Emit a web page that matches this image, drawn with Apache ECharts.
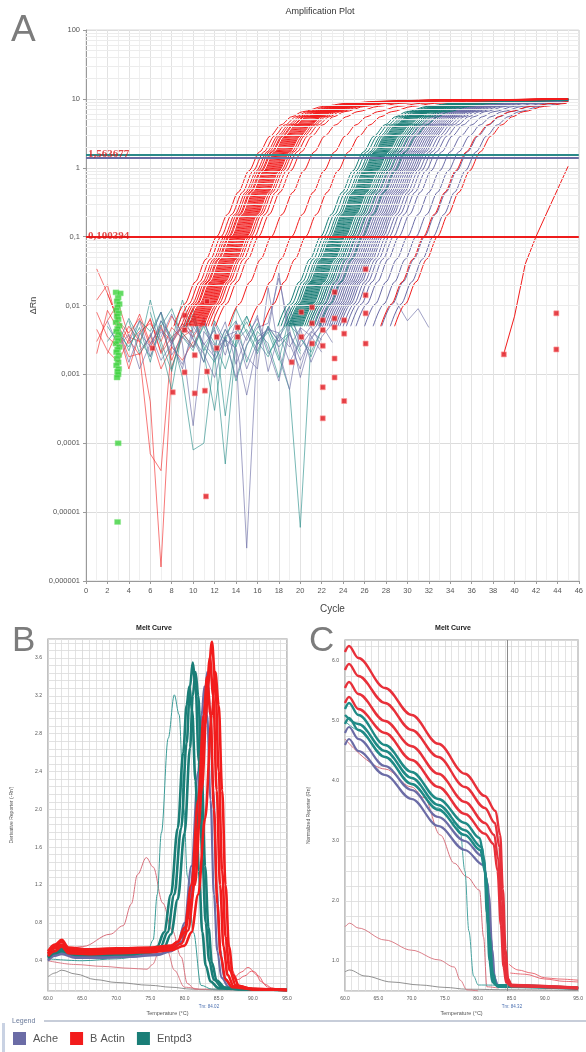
<!DOCTYPE html>
<html><head><meta charset="utf-8">
<script src="https://cdn.jsdelivr.net/npm/echarts@6/dist/echarts.min.js"></script>
<style>html,body{margin:0;padding:0;background:#fff}#c{width:586px;height:1052px}</style>
</head><body><div id="c"></div>
<script>
// ---------------- DATA ----------------
// A: amplification plot (cycle, ΔRn)
const cycleRange = [0, 46];
const logRange = [0.000001, 100];
const thresholds = [0.100394, 1.563677, 1.4];          // B Actin, Entpd3, Ache
const thresholdLabels = ['0,100394', '1,563677'];
// shape of one amplification curve, relative to its Ct (cycle at 0.1)
const ampDx = [-4, -3, -2, -1, 0, 1, 2, 3, 4, 5, 6, 7, 8, 10, 12, 15, 20, 30];
const ampRn = [0.005, 0.0105, 0.022, 0.047, 0.1, 0.21, 0.44, 0.9, 1.7, 2.9, 4.2, 5.5, 6.5, 7.8, 8.6, 9.2, 9.6, 9.9];
// Ct of each well (cycle where the curve crosses 0.1)
const ctBactin = [12.2, 12.6, 12.9, 13.1, 13.3, 13.4, 13.6, 13.7, 13.8, 13.9, 14.0, 14.1, 14.2, 14.3, 14.4, 14.5, 14.6, 14.7, 14.8, 14.9, 15.0, 15.2, 15.4, 15.7, 16.1, 17.3, 19.2, 20.5, 31.5, 32.8];
const ctEntpd3 = [21.9, 22.2, 22.5, 22.7, 22.9, 23.0, 23.1, 23.2, 23.3, 23.4, 23.5, 23.6, 23.7, 23.8, 23.9, 24.0, 24.1, 24.2, 24.4, 24.6, 24.8, 25.0, 25.3, 25.8];
const ctAche = [24.8, 25.2, 25.5, 25.7, 25.9, 26.1, 26.3, 26.5, 26.7, 26.9, 27.1, 27.3, 27.5, 27.7, 28.0, 28.3, 28.7, 29.2, 30.0, 30.8, 31.6, 32.4];
const lateBactin = [[39, 0.002], [40, 0.007], [41, 0.04], [42, 0.1], [43, 0.22], [44, 0.48], [45, 1.05]];
// baseline noise: [first cycle, values per cycle]
const noiseBactin = [
  [1, [0.034, 0.015, 0.006, 0.004, 0.0065, 0.0025, 0.0045, 0.003, 0.0055, 0.004]],
  [1, [0.008, 0.0035, 0.0025, 0.005, 0.003, 0.0065, 0.002, 0.0035, 0.0048, 0.006, 0.008]],
  [1, [0.003, 0.006, 0.011, 0.0035, 0.003, 0.0004, 0.0000016, 0.0013, 0.0035, 0.0045]],
  [2, [0.002, 0.0045, 0.0018, 0.002, 0.00007, 0.00004, 0.0028, 0.005, 0.0035, 0.006]],
  [1, [0.012, 0.02, 0.005, 0.0028, 0.0042, 0.0055, 0.003, 0.007, 0.004, 0.0025, 0.006]],
  [1, [0.0045, 0.0022, 0.0015, 0.0032, 0.0019, 0.0038, 0.0012, 0.0025, 0.0016, 0.003]],
  [1, [0.002, 0.0085, 0.0045, 0.0012, 0.0038, 0.0062, 0.0021, 0.0048, 0.0033]],
  [2, [0.015, 0.006, 0.0032, 0.0075, 0.0028, 0.0052, 0.0016, 0.0042, 0.0065]]
];
const noiseEntpd3 = [
  [2, [0.003, 0.005, 0.0022, 0.006, 0.0042, 0.008, 0.003, 0.012, 0.004, 0.0015, 0.006, 0.003, 0.009, 0.004, 0.002, 0.005, 0.003, 0.004]],
  [3, [0.004, 0.0025, 0.0048, 0.0015, 0.006, 0.0035, 0.0009, 0.00008, 0.0001, 0.002, 0.0045, 0.0025, 0.007, 0.003, 0.0018, 0.004, 0.006]],
  [4, [0.006, 0.002, 0.0035, 0.008, 0.0012, 0.004, 0.0025, 0.005, 0.002, 0.00005, 0.003, 0.0045, 0.0022, 0.005, 0.0018, 0.0006, 0.000006, 0.003]],
  [2, [0.005, 0.0028, 0.0065, 0.0032, 0.0018, 0.005, 0.009, 0.0035, 0.0022, 0.0055, 0.0028, 0.0012, 0.004, 0.007, 0.003, 0.0045, 0.0025, 0.0038, 0.002]],
  [5, [0.0025, 0.012, 0.003, 0.0011, 0.0045, 0.0075, 0.0025, 0.0015, 0.0035, 0.0008, 0.0026, 0.0055, 0.002, 0.0035, 0.006, 0.0022]],
  [6, [0.008, 0.0025, 0.0006, 0.0045, 0.009, 0.002, 0.0003, 0.0038, 0.006, 0.0015, 0.0042, 0.0028, 0.0009, 0.0052, 0.0035, 0.0018, 0.0045]],
  [9, [0.004, 0.0065, 0.0022, 0.0048, 0.00025, 0.0032, 0.0058, 0.0027, 0.0041, 0.0016, 0.0069, 0.0034, 0.0021, 0.0045]]
];
const noiseAche = [
  [3, [0.0045, 0.0015, 0.004, 0.0025, 0.006, 0.003, 0.0012, 0.005, 0.0028, 0.0018, 0.0045, 0.0022, 0.000003, 0.0035, 0.0045, 0.004, 0.0015, 0.003, 0.005, 0.0025]],
  [4, [0.003, 0.006, 0.0018, 0.0042, 0.0028, 0.0075, 0.0033, 0.0015, 0.0055, 0.0025, 0.004, 0.0012, 0.003, 0.0042, 0.03, 0.0028, 0.0012, 0.004, 0.0065]],
  [5, [0.0022, 0.0035, 0.008, 0.0026, 0.0014, 0.0038, 0.0062, 0.0021, 0.0033, 0.0009, 0.0027, 0.0048, 0.0055, 0.025, 0.0045, 0.0009, 0.0032, 0.0055]],
  [2, [0.006, 0.0025, 0.0038, 0.0012, 0.0028, 0.0048, 0.0019, 0.0036, 0.0024, 0.0068, 0.0016, 0.0032, 0.0024, 0.0005, 0.0028, 0.0048, 0.003, 0.0095, 0.0025, 0.0042, 0.0032]],
  [6, [0.004, 0.0016, 0.0028, 0.0055, 0.0032, 0.002, 0.0009, 0.0036, 0.0042, 0.0018, 0.0012, 0.018, 0.0022, 0.0006, 0.0048, 0.0036, 0.0021]],
  [7, [0.0035, 0.0075, 0.0028, 0.00018, 0.0042, 0.0026, 0.0058, 0.0014, 0.0036, 0.0065, 0.0023, 0.0008, 0.0041, 0.0016, 0.0034, 0.0052, 0.0029]],
  [10, [0.0062, 0.0027, 0.0044, 0.0019, 0.0058, 0.0031, 0.0072, 0.0011, 0.0038, 0.0025, 0.0047, 0.0015, 0.0035, 0.0055]],
  [29, [0.011, 0.006, 0.009, 0.0048]]
];
const flagPoints = [[6.2, 0.0024], [8.1, 0.00055], [9.2, 0.0072], [9.2, 0.0044], [9.2, 0.00107], [10.15, 0.0019], [10.15, 0.00053], [11.1, 0.00058], [11.3, 0.0115], [11.3, 0.0011], [11.2, 0.0000169], [12.2, 0.0035], [12.2, 0.0024], [14.15, 0.0048], [14.15, 0.0035], [19.2, 0.0015], [20.1, 0.008], [20.1, 0.0035], [21.1, 0.0094], [21.1, 0.0055], [21.1, 0.0028], [22.1, 0.0061], [22.1, 0.0044], [22.1, 0.0026], [22.1, 0.00065], [22.1, 0.00023], [23.2, 0.0156], [23.2, 0.0065], [23.2, 0.0048], [23.2, 0.0017], [23.2, 0.0009], [24.1, 0.0061], [24.1, 0.0039], [24.1, 0.00041], [26.1, 0.0336], [26.1, 0.0141], [26.1, 0.0077], [26.1, 0.0028], [39, 0.00195], [43.9, 0.0077], [43.9, 0.0023]];
const greenPoints = [[2.8, 0.0155], [3.2, 0.015], [3.0, 0.013], [2.9, 0.0115], [3.1, 0.0105], [2.95, 0.0095], [2.85, 0.0085], [3.05, 0.0077], [2.9, 0.007], [3.0, 0.0063], [2.8, 0.0057], [3.1, 0.0051], [2.95, 0.0046], [2.85, 0.0042], [3.05, 0.0038], [2.9, 0.0034], [3.0, 0.0031], [2.8, 0.0028], [3.1, 0.0025], [2.95, 0.0023], [2.85, 0.0021], [3.05, 0.0019], [2.9, 0.0017], [3.0, 0.0015], [2.85, 0.00135], [3.05, 0.0012], [2.95, 0.0011], [3.0, 0.001], [2.9, 0.0009], [3.0, 0.0001], [2.95, 0.0000072]];

// B: derivative melt curves (°C, -Rn')
const derivBactin = [
  [[60,0.48],[61,0.55],[62,0.6],[63,0.52],[66,0.5],[70,0.52],[75,0.53],[78,0.55],[79,0.6],[80,0.75],[81,1.2],[82,2.1],[82.8,3.0],[83.3,3.4],[83.8,3.0],[84.3,2.0],[84.8,1.0],[85.3,0.45],[86,0.2],[87,0.12],[90,0.1],[95,0.09]],
  [[60,0.5],[61,0.57],[62,0.62],[63,0.54],[66,0.52],[70,0.53],[75,0.54],[78,0.56],[79,0.6],[80,0.7],[81,1.05],[82,1.8],[83,2.9],[83.7,3.6],[84.2,3.2],[84.7,2.2],[85.2,1.2],[85.7,0.55],[86.3,0.25],[87.2,0.13],[90,0.1],[95,0.09]],
  [[60,0.47],[61,0.53],[62,0.57],[63,0.5],[66,0.49],[70,0.5],[75,0.51],[78,0.53],[79.5,0.58],[80.5,0.72],[81.5,1.2],[82.5,2.2],[83.4,3.3],[84,3.77],[84.5,3.35],[85,2.4],[85.5,1.35],[86,0.65],[86.6,0.3],[87.5,0.14],[90,0.1],[95,0.09]],
  [[60,0.45],[61,0.5],[62,0.55],[63,0.48],[66,0.47],[70,0.48],[75,0.49],[78,0.51],[80,0.56],[81,0.7],[82,1.1],[83,1.9],[84,3.0],[84.5,3.45],[85,3.1],[85.5,2.2],[86,1.2],[86.5,0.55],[87.1,0.25],[88,0.13],[90,0.1],[95,0.09]]
];
const derivEntpd3 = [
  [[60,0.44],[61,0.5],[62,0.52],[64,0.47],[68,0.47],[72,0.47],[75,0.49],[76,0.55],[77,0.7],[78,1.1],[79,1.8],[79.8,2.6],[80.3,3.1],[80.7,3.3],[81.1,3.05],[81.6,2.3],[82.1,1.35],[82.6,0.7],[83.1,0.35],[83.8,0.18],[85,0.11],[88,0.1],[95,0.09]],
  [[60,0.45],[61,0.5],[62,0.53],[64,0.48],[68,0.48],[72,0.48],[75,0.5],[76.5,0.55],[77.5,0.7],[78.5,1.1],[79.5,1.8],[80.3,2.7],[80.8,3.3],[81.2,3.55],[81.6,3.3],[82.1,2.5],[82.6,1.5],[83.1,0.8],[83.6,0.4],[84.3,0.2],[85.5,0.12],[88,0.1],[95,0.09]],
  [[60,0.43],[61,0.48],[62,0.5],[64,0.46],[68,0.46],[72,0.47],[75,0.49],[77,0.54],[78,0.68],[79,1.05],[80,1.75],[80.8,2.65],[81.2,3.2],[81.6,3.45],[82,3.2],[82.5,2.4],[83,1.4],[83.5,0.75],[84,0.38],[84.7,0.19],[86,0.11],[88,0.1],[95,0.09]]
];
const derivAche = [
  [[60,0.4],[61,0.45],[62,0.47],[64,0.43],[68,0.43],[72,0.44],[76,0.46],[78,0.5],[79,0.58],[80,0.8],[81,1.4],[82,2.4],[82.5,3.0],[82.9,3.3],[83.3,3.0],[83.8,2.1],[84.3,1.1],[84.8,0.5],[85.4,0.22],[86.5,0.12],[90,0.1],[95,0.09]],
  [[60,0.41],[61,0.46],[62,0.48],[64,0.44],[68,0.44],[72,0.45],[76,0.47],[78,0.5],[79.5,0.6],[80.5,0.85],[81.5,1.5],[82.4,2.5],[82.9,3.1],[83.3,3.45],[83.7,3.1],[84.2,2.2],[84.7,1.15],[85.2,0.52],[85.8,0.22],[86.9,0.12],[90,0.1],[95,0.09]]
];
const derivTealOutlier = [[60,0.42],[65,0.4],[70,0.42],[73,0.44],[74.6,0.5],[75.4,0.62],[76.0,1.1],[76.6,1.75],[77.6,2.75],[78.5,3.21],[79.2,3.0],[79.9,2.0],[80.4,1.3],[81.3,0.7],[82.4,0.14],[84,0.1],[95,0.09]];
const derivPinkOutlier = [[60,0.48],[62,0.52],[65.1,0.55],[69.1,0.68],[71.0,0.77],[72.2,1.0],[73.1,1.31],[74.4,1.49],[75.4,1.39],[76.8,1.01],[78.2,0.72],[79.5,0.44],[80.4,0.16],[81.5,0.1],[95,0.09]];
const derivPinkLow = [[60,0.4],[64,0.36],[68,0.34],[72,0.32],[74.5,0.31],[75.3,0.36],[76.5,0.55],[77.5,0.5],[78.5,0.3],[80,0.12],[82,0.1]];
const derivGrayLow = [[60,0.23],[61,0.27],[62,0.3],[64,0.26],[67,0.2],[70,0.17],[75,0.14],[78,0.12],[81,0.1],[85,0.09],[95,0.09]];
const derivRedTail = [
  [[86,0.6],[86.5,0.35],[87.2,0.22],[88.3,0.28],[89.3,0.33],[90.3,0.28],[91.2,0.18],[92.2,0.12],[94,0.09]],
  [[86.3,0.5],[86.9,0.3],[87.8,0.2],[88.8,0.24],[89.8,0.29],[90.8,0.24],[91.8,0.15],[93,0.1],[95,0.09]]
];
const tmB = 84.02;

// C: normalized reporter melt curves (°C, Rn)
const rnBactin = [
  [[60,6.15],[60.6,6.25],[62,6.05],[66,5.55],[70,5.1],[74,4.62],[78,4.12],[81,3.75],[82.6,3.5],[83.3,3.1],[83.7,2.2],[84.1,1.2],[84.5,0.7],[85,0.6],[88,0.58],[95,0.56]],
  [[60,5.85],[60.6,5.95],[62,5.75],[66,5.3],[70,4.85],[74,4.4],[78,3.9],[81,3.55],[82.5,3.3],[83.2,2.9],[83.6,2.0],[84.0,1.1],[84.4,0.68],[85,0.6],[90,0.57],[95,0.55]],
  [[60,5.55],[60.6,5.65],[62,5.45],[66,5.0],[70,4.58],[74,4.12],[78,3.65],[81,3.3],[82.4,3.1],[83.0,2.7],[83.5,1.8],[83.9,1.0],[84.3,0.66],[85,0.6],[95,0.55]],
  [[60,5.3],[60.6,5.4],[62,5.2],[66,4.8],[70,4.35],[74,3.9],[78,3.45],[81,3.12],[82.3,2.95],[82.9,2.5],[83.4,1.6],[83.8,0.9],[84.2,0.64],[85,0.58],[95,0.54]]
];
const rnEntpd3 = [
  [[60,5.2],[60.6,5.3],[62,5.1],[66,4.6],[70,4.15],[74,3.7],[78,3.3],[80.2,3.05],[80.9,2.7],[81.3,1.8],[81.7,1.0],[82.1,0.65],[83,0.58],[95,0.55]],
  [[60,5.1],[62,4.95],[66,4.5],[70,4.05],[74,3.6],[78,3.18],[80.5,2.9],[81.2,2.4],[81.7,1.4],[82.2,0.8],[82.7,0.6],[95,0.55]],
  [[60,4.95],[60.6,5.05],[62,4.85],[66,4.4],[70,3.95],[74,3.52],[78,3.1],[80.3,2.85],[81.0,2.5],[81.5,1.6],[81.9,0.9],[82.4,0.62],[83,0.57],[95,0.54]]
];
const rnAche = [
  [[60,4.8],[60.6,4.9],[62,4.7],[66,4.25],[70,3.85],[74,3.4],[78,3.0],[80.6,2.75],[81.4,2.3],[81.9,1.4],[82.3,0.8],[82.8,0.6],[95,0.55]],
  [[60,4.6],[60.6,4.7],[62,4.5],[66,4.1],[70,3.7],[74,3.25],[78,2.85],[80.8,2.6],[81.6,2.1],[82.1,1.2],[82.5,0.7],[83,0.58],[95,0.54]]
];
const rnTealOutlier = [[60,5.0],[62,4.85],[66,4.4],[70,3.95],[74,3.55],[76.5,3.3],[77.3,3.15],[78.0,2.5],[78.6,1.5],[79.3,0.75],[80,0.6],[95,0.55]];
const rnPinkOutlier = [[60,4.7],[66,4.2],[70,3.9],[71.9,3.72],[74.3,3.1],[76.4,2.63],[78.3,2.4],[80.2,2.18],[80.8,1.4],[81.3,0.57],[83,0.55]];
const rnPinkLow = [[60,1.57],[60.7,1.63],[62,1.55],[66,1.35],[70,1.18],[74,1.02],[76.4,0.9],[77.3,0.68],[78.3,0.52],[80,0.5]];
const rnGrayLow = [[60,0.82],[60.7,0.85],[63,0.75],[67,0.65],[71.3,0.6],[75,0.56],[78.3,0.53],[85,0.52],[95,0.51]];
const rnRedTail = [
  [[84.6,0.95],[86,0.85],[88,0.8],[90,0.72],[92,0.7],[95,0.68]],
  [[84.8,0.8],[87,0.78],[90,0.7],[93,0.66],[95,0.65]]
];
const tmC = 84.32;

const legendNames = ['Ache', 'B Actin', 'Entpd3'];

// ---------------- CHART ----------------
const chart = echarts.init(document.getElementById('c'), null, {renderer: 'canvas'});
const FONT = '"Liberation Sans", Arial, sans-serif';
const C_ACHE = '#6b6ca6', C_BACT = '#f21c1c', C_ENT = '#1a7e77';
const C_PINK = '#d8707c', C_GRAY = '#858585';

function ampCurve(ct) {
  const pts = [];
  for (let i = 0; i < ampDx.length; i++) {
    const x = ct + ampDx[i];
    if (x <= 45) pts.push([x, ampRn[i]]);
    else { pts.push([45, ampRn[i]]); break; }
  }
  return pts;
}
function run(start, arr) { return arr.map((v, i) => [start + i, v]); }

const series = [];
function line(ax, name, data, color, width, opts) {
  series.push(Object.assign({
    type: 'line', name: name, xAxisIndex: ax, yAxisIndex: ax, data: data,
    symbol: 'none', showSymbol: false, silent: true, animation: false,
    lineStyle: {color: color, width: width}, itemStyle: {color: color}, z: 3
  }, opts || {}));
}

// log minor grid lines for A
const minorVals = [];
for (let d = -6; d < 2; d++) for (let k = 2; k < 10; k++) minorVals.push({yAxis: k * Math.pow(10, d)});
series.push({type: 'line', xAxisIndex: 0, yAxisIndex: 0, data: [], z: 1, silent: true, animation: false,
  markLine: {silent: true, animation: false, symbol: ['none', 'none'], label: {show: false},
    lineStyle: {color: '#ececec', width: 1, type: 'solid'}, data: minorVals}});

// noise
noiseBactin.forEach(n => line(0, 'B Actin', run(n[0], n[1]), C_BACT, 0.8, {z: 2, lineStyle: {color: C_BACT, width: 0.8, opacity: 0.75}}));
noiseEntpd3.forEach(n => line(0, 'Entpd3', run(n[0], n[1]), C_ENT, 0.8, {z: 2, lineStyle: {color: '#2a8f8a', width: 0.8, opacity: 0.8}}));
noiseAche.forEach(n => line(0, 'Ache', run(n[0], n[1]), C_ACHE, 0.8, {z: 2, lineStyle: {color: C_ACHE, width: 0.8, opacity: 0.8}}));

// amplification curves
const smoothOpt = {smooth: 0.3, smoothMonotone: 'x'};
ctAche.forEach(ct => line(0, 'Ache', ampCurve(ct), C_ACHE, 1, smoothOpt));
ctEntpd3.forEach(ct => line(0, 'Entpd3', ampCurve(ct), C_ENT, 1, smoothOpt));
ctBactin.forEach(ct => line(0, 'B Actin', ampCurve(ct), C_BACT, 1, Object.assign({z: 4}, smoothOpt)));
line(0, 'B Actin', lateBactin, C_BACT, 1, {z: 4});

// thresholds
series.push({type: 'line', xAxisIndex: 0, yAxisIndex: 0, data: [], z: 6, silent: true, animation: false,
  markLine: {silent: true, animation: false, symbol: ['none', 'none'], label: {show: false},
    data: [
      {yAxis: thresholds[0], lineStyle: {color: '#ee1c1c', width: 2, type: 'solid'}},
      {yAxis: thresholds[1], lineStyle: {color: '#2b8a89', width: 2.2, type: 'solid'}},
      {yAxis: thresholds[2], lineStyle: {color: '#6a6ca3', width: 2.2, type: 'solid'}}
    ]}});
series.push({type: 'scatter', xAxisIndex: 0, yAxisIndex: 0, z: 9, silent: true, animation: false,
  symbolSize: 0, data: [[0.1, thresholds[0]], [0.1, thresholds[1]]],
  label: {show: true, position: 'right', distance: 1, color: '#d81818', fontSize: 11, fontWeight: 'bold',
    fontFamily: '"Liberation Serif", "Times New Roman", serif',
    formatter: p => thresholdLabels[p.dataIndex]}});
// flags
series.push({type: 'scatter', xAxisIndex: 0, yAxisIndex: 0, z: 7, silent: true, animation: false,
  symbol: 'rect', symbolSize: 5, data: flagPoints,
  itemStyle: {color: '#e0141c', borderColor: '#ff9a9a', borderWidth: 0.8}});
series.push({type: 'scatter', xAxisIndex: 0, yAxisIndex: 0, z: 7, silent: true, animation: false,
  symbol: 'rect', symbolSize: [6, 5], data: greenPoints,
  itemStyle: {color: '#3cd23c', borderColor: '#8ee88e', borderWidth: 0.6}});

// B
const mSmooth = {smooth: 0.35, smoothMonotone: 'x'};
line(1, 'Ache', derivGrayLow, C_GRAY, 0.9, mSmooth);
line(1, 'B Actin', derivPinkLow, C_PINK, 0.9, mSmooth);
line(1, 'B Actin', derivPinkOutlier, C_PINK, 1, mSmooth);
derivRedTail.forEach(d => line(1, 'B Actin', d, '#e85560', 0.9, mSmooth));
line(1, 'Entpd3', derivTealOutlier, '#3a9b96', 1, mSmooth);
derivAche.forEach(d => line(1, 'Ache', d, C_ACHE, 2.2, mSmooth));
derivEntpd3.forEach(d => line(1, 'Entpd3', d, C_ENT, 2.6, Object.assign({z: 4}, mSmooth)));
derivBactin.forEach(d => line(1, 'B Actin', d, C_BACT, 2.6, Object.assign({z: 5}, mSmooth)));

// C
series.push({type: 'line', xAxisIndex: 2, yAxisIndex: 2, data: [], z: 2, silent: true, animation: false,
  markLine: {silent: true, animation: false, symbol: ['none', 'none'], label: {show: false},
    lineStyle: {color: '#8a8a8a', width: 1, type: 'solid'}, data: [{xAxis: tmC}]}});
line(2, 'Ache', rnGrayLow, C_GRAY, 0.9, mSmooth);
line(2, 'B Actin', rnPinkLow, C_PINK, 0.9, mSmooth);
line(2, 'B Actin', rnPinkOutlier, C_PINK, 1, mSmooth);
rnRedTail.forEach(d => line(2, 'B Actin', d, '#e8606a', 0.9, mSmooth));
line(2, 'Entpd3', rnTealOutlier, '#4aa5a2', 1, mSmooth);
rnAche.forEach(d => line(2, 'Ache', d, C_ACHE, 2.2, mSmooth));
rnEntpd3.forEach(d => line(2, 'Entpd3', d, '#1f8a86', 2.4, Object.assign({z: 4}, mSmooth)));
rnBactin.forEach(d => line(2, 'B Actin', d, '#e8303a', 2.4, Object.assign({z: 5}, mSmooth)));

function fmtLog(v) {
  const e = Math.round(Math.log10(v));
  return e >= 0 ? String(Math.round(v)) : '0,' + '0'.repeat(-e - 1) + '1';
}
function onStep(v, step) { const r = v / step; return Math.abs(r - Math.round(r)) < 1e-4; }

function meltX(gi) {
  return {type: 'value', gridIndex: gi, min: 60, max: 95, interval: 5,
    axisLine: {show: false}, axisTick: {show: false},
    axisLabel: {fontSize: 5, color: '#555', margin: 5, fontFamily: FONT, formatter: v => v.toFixed(1)},
    splitLine: {show: true, lineStyle: {color: '#d6d6d6', width: 0.8}},
    minorTick: {show: false, splitNumber: 5},
    minorSplitLine: {show: true, lineStyle: {color: '#dcdcdc', width: 0.8}},
    name: 'Temperature (°C)', nameLocation: 'middle', nameGap: 19,
    nameTextStyle: {fontSize: 5.5, color: '#555', fontFamily: FONT}};
}

const option = {
  backgroundColor: '#fff',
  animation: false,
  textStyle: {fontFamily: FONT},
  grid: [
    {left: 86, top: 30, width: 494, height: 551, show: true, borderColor: '#d8d8d8', borderWidth: 1, backgroundColor: '#fff'},
    {left: 48, top: 639, width: 239, height: 352, show: true, borderColor: '#9a9a9a', borderWidth: 1.2},
    {left: 345, top: 640, width: 238, height: 351, show: true, borderColor: '#9a9a9a', borderWidth: 1.2}
  ],
  xAxis: [
    {type: 'value', gridIndex: 0, min: cycleRange[0], max: cycleRange[1], interval: 2,
      axisLine: {show: true, onZero: false, lineStyle: {color: '#9a9a9a'}},
      axisTick: {show: true, length: 3, lineStyle: {color: '#9a9a9a'}},
      axisLabel: {fontSize: 7.5, color: '#555', margin: 6, fontFamily: FONT},
      splitLine: {show: true, lineStyle: {color: '#e2e2e2'}},
      minorTick: {show: false, splitNumber: 2},
      minorSplitLine: {show: true, lineStyle: {color: '#efefef'}},
      name: 'Cycle', nameLocation: 'middle', nameGap: 23,
      nameTextStyle: {fontSize: 10, color: '#444', fontFamily: FONT}},
    meltX(1), meltX(2)
  ],
  yAxis: [
    {type: 'log', logBase: 10, gridIndex: 0, min: logRange[0], max: logRange[1], splitNumber: 8,
      axisLine: {show: true, lineStyle: {color: '#9a9a9a'}},
      axisTick: {show: true, length: 3, lineStyle: {color: '#9a9a9a'}},
      axisLabel: {fontSize: 7.5, color: '#555', margin: 6, fontFamily: FONT, formatter: fmtLog},
      splitLine: {show: true, lineStyle: {color: '#dcdcdc'}},
      name: 'ΔRn', nameLocation: 'middle', nameGap: 48,
      nameTextStyle: {fontSize: 9, color: '#444', fontFamily: FONT}},
    {type: 'value', gridIndex: 1, min: 0.08, max: 3.8, interval: 0.08,
      axisLine: {show: false}, axisTick: {show: false},
      axisLabel: {fontSize: 5, color: '#555', margin: 6, fontFamily: FONT,
        formatter: v => onStep(v, 0.4) ? v.toFixed(1) : ''},
      splitLine: {show: true, lineStyle: {color: '#dadada', width: 0.8}},
      name: "Derivative Reporter (-Rn')", nameLocation: 'middle', nameGap: 34,
      nameTextStyle: {fontSize: 5, color: '#555', fontFamily: FONT}},
    {type: 'value', gridIndex: 2, min: 0.5, max: 6.35, interval: 0.25,
      axisLine: {show: false}, axisTick: {show: false},
      axisLabel: {fontSize: 5, color: '#555', margin: 6, fontFamily: FONT,
        formatter: v => onStep(v, 1) ? v.toFixed(1) : ''},
      splitLine: {show: true, lineStyle: {color: '#dadada', width: 0.8}},
      name: 'Normalized Reporter (Rn)', nameLocation: 'middle', nameGap: 34,
      nameTextStyle: {fontSize: 5, color: '#555', fontFamily: FONT}}
  ],
  legend: {
    left: 8, top: 1027, itemWidth: 13, itemHeight: 13, itemGap: 12, icon: 'rect',
    selectedMode: false,
    textStyle: {fontSize: 11, color: '#555', fontFamily: FONT, padding: [0, 0, 0, 2]},
    data: [
      {name: legendNames[0], itemStyle: {color: C_ACHE, borderWidth: 0}},
      {name: legendNames[1], itemStyle: {color: C_BACT, borderWidth: 0}},
      {name: legendNames[2], itemStyle: {color: C_ENT, borderWidth: 0}}
    ]
  },
  graphic: [
    {type: 'text', silent: true, style: {text: 'A', x: 11, y: 49, verticalAlign: 'bottom', font: '37px "Liberation Sans", Arial, sans-serif', fill: '#7c7c7c'}},
    {type: 'text', silent: true, style: {text: 'B', x: 12, y: 659, verticalAlign: 'bottom', font: '35px "Liberation Sans", Arial, sans-serif', fill: '#7c7c7c'}},
    {type: 'text', silent: true, style: {text: 'C', x: 309, y: 659, verticalAlign: 'bottom', font: '35px "Liberation Sans", Arial, sans-serif', fill: '#7c7c7c'}},
    {type: 'text', silent: true, style: {text: 'Amplification Plot', x: 320, y: 12, align: 'center', verticalAlign: 'middle', font: '9px "Liberation Sans", Arial, sans-serif', fill: '#333'}},
    {type: 'text', silent: true, style: {text: 'Melt Curve', x: 154, y: 628, align: 'center', verticalAlign: 'middle', font: 'bold 7px "Liberation Sans", Arial, sans-serif', fill: '#222'}},
    {type: 'text', silent: true, style: {text: 'Melt Curve', x: 453, y: 628, align: 'center', verticalAlign: 'middle', font: 'bold 7px "Liberation Sans", Arial, sans-serif', fill: '#222'}},
    {type: 'text', silent: true, style: {text: 'Tm: ' + tmB.toFixed(2), x: 209, y: 1007, align: 'center', verticalAlign: 'middle', font: '4.5px "Liberation Sans", Arial, sans-serif', fill: '#4a6fb0'}},
    {type: 'text', silent: true, style: {text: 'Tm: ' + tmC.toFixed(2), x: 512, y: 1007, align: 'center', verticalAlign: 'middle', font: '4.5px "Liberation Sans", Arial, sans-serif', fill: '#4a6fb0'}},
    {type: 'text', silent: true, style: {text: 'Legend', x: 12, y: 1021, verticalAlign: 'middle', font: '7px "Liberation Sans", Arial, sans-serif', fill: '#6a7a9a'}},
    {type: 'line', silent: true, shape: {x1: 44, y1: 1021, x2: 586, y2: 1021}, style: {stroke: '#b4bccc', lineWidth: 1.5}},
    {type: 'rect', silent: true, shape: {x: 2, y: 1023, width: 3, height: 29}, style: {fill: '#c9d2e3'}}
  ],
  series: series
};
chart.setOption(option);
</script>
</body></html>
